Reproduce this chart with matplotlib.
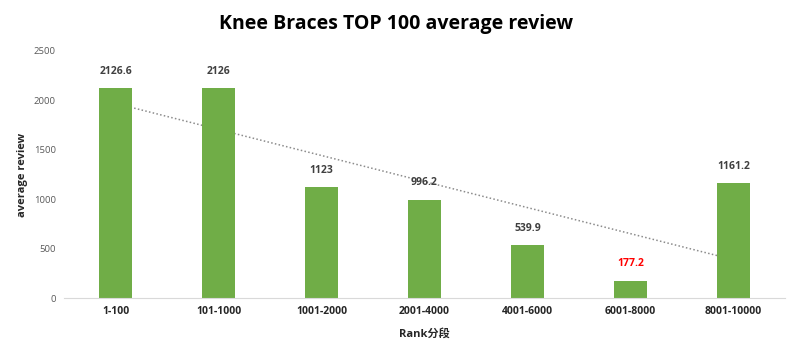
import matplotlib.pyplot as plt
import numpy as np

categories = ["1-100", "101-1000", "1001-2000", "2001-4000", "4001-6000", "6001-8000", "8001-10000"]
values = [2126.6, 2126, 1123, 996.2, 539.9, 177.2, 1161.2]
labels = ["2126.6", "2126", "1123", "996.2", "539.9", "177.2", "1161.2"]
label_colors = ["#404040", "#404040", "#404040", "#404040", "#404040", "#FF0000", "#404040"]

plt.rcParams["font.family"] = ["Open Sans", "Noto Sans CJK SC", "DejaVu Sans"]

fig = plt.figure(figsize=(7.92, 3.49), dpi=100)
ax = fig.add_axes([0.081, 0.146, 0.91, 0.708])

x = np.arange(len(categories))
ax.bar(x, values, width=0.32, color="#70AD47", zorder=2)

# linear trendline behind the bars
k, b = np.polyfit(x, values, 1)
ax.plot(x, k * x + b, color="#8c8c8c", linestyle=(0, (1, 1.5)), linewidth=1.1, zorder=1)

for xi, v, lab, c in zip(x, values, labels, label_colors):
    ax.annotate(lab, (xi, v), xytext=(0, 8), textcoords="offset points",
                ha="center", va="bottom", fontsize=7.5, fontweight="bold", color=c)

ax.set_xlim(-0.5, len(categories) - 0.5)
ax.set_ylim(0, 2500)
ax.set_yticks(range(0, 2501, 500))
ax.set_xticks(x)
ax.set_xticklabels(categories, fontsize=7.5, fontweight="bold", color="#262626")
ax.tick_params(axis="y", labelsize=6.8, labelcolor="#595959", length=0, pad=6)
ax.tick_params(axis="x", length=0, pad=6)

for s in ["top", "right", "left"]:
    ax.spines[s].set_visible(False)
ax.spines["bottom"].set_color("#d9d9d9")

ax.set_xlabel("Rank分段", fontsize=8, fontweight="bold", color="#262626", labelpad=8)
ax.set_ylabel("average review", fontsize=8, fontweight="bold", color="#262626")
ax.yaxis.set_label_coords(-0.05, 0.5)
fig.suptitle("Knee Braces TOP 100 average review", fontsize=14, fontweight="bold", y=0.96)

fig.savefig("out.png", dpi=100)
